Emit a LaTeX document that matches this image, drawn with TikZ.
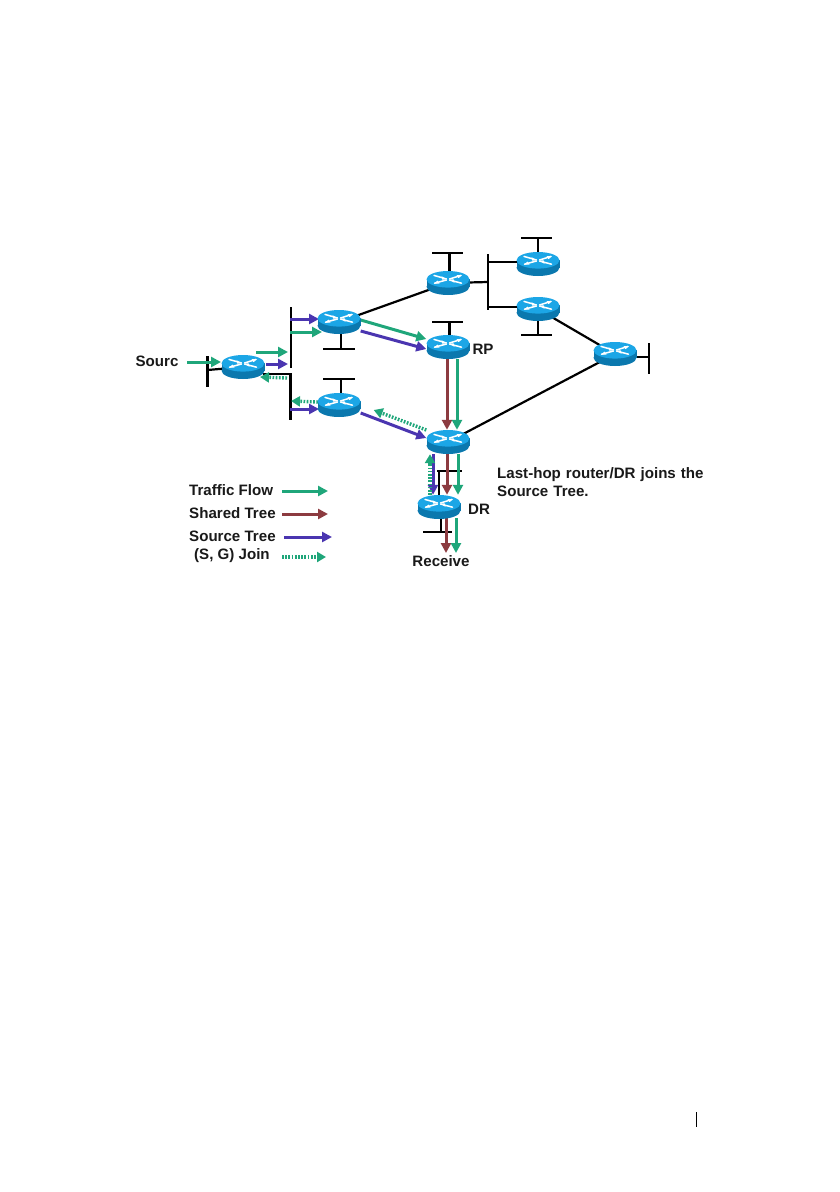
\documentclass[tikz,border=0pt]{standalone}
\usepackage{fontspec}
\setmainfont{Liberation Sans}
\usetikzlibrary{arrows.meta,backgrounds}
\definecolor{flowgreen}{HTML}{1FA67A}
\definecolor{treebrown}{HTML}{8C3B40}
\definecolor{treeblue}{HTML}{4A35B0}
\definecolor{routertop}{HTML}{1CA6E6}
\definecolor{routerside}{HTML}{0B78AE}
\tikzset{
  x=1pt,y=-1pt,
  routerbox/.style={rectangle,minimum width=43pt,minimum height=24pt,inner sep=0pt},
  routerpic/.pic={
    \fill[routerside] (-21.5,-3.7) rectangle (21.5,3.7);
    \fill[routerside] (0,3.7) ellipse[x radius=21.5,y radius=8.3];
    \fill[routertop] (0,-3.7) ellipse[x radius=21.5,y radius=8.3];
    \draw[white,line width=1.5pt,line cap=round] (-14,-7.6) -- (-1.5,-4);
    \draw[white,line width=1.5pt,line cap=round] (1.5,-4) -- (13,-7.6);
    \draw[white,line width=1.5pt,line cap=round] (13.5,0.2) -- (1.5,-3);
    \draw[white,line width=1.5pt,line cap=round] (-1.5,-3) -- (-13.5,0.2);
    \fill[white] (-1.5,-3.9) -- (-6.5,-6.8) -- (-5.5,-3.2) -- cycle;
    \fill[white] (14,-8) -- (8.5,-8) -- (10.5,-4.8) -- cycle;
    \fill[white] (1.5,-3.1) -- (6.5,-0.2) -- (5.5,-3.8) -- cycle;
    \fill[white] (-14,0.6) -- (-8.5,0.6) -- (-10.5,-2.4) -- cycle;
  },
  wire/.style={draw=black,line width=2.2pt},
  flow/.style={line width=3pt,-{Triangle[length=10pt,width=10pt]}},
  greenflow/.style={flow,draw=flowgreen,fill=flowgreen},
  brownflow/.style={flow,draw=treebrown,fill=treebrown},
  blueflow/.style={flow,draw=treeblue,fill=treeblue},
  joinflow/.style={draw=flowgreen,line width=3.4pt,dash pattern=on 1.7pt off 1.5pt,
    -{Triangle[length=9pt,width=10pt,fill=flowgreen,sep=0pt]}},
  lbl/.style={font=\bfseries\fontsize{15.1}{17}\selectfont,text=black!90,inner sep=0pt},
  lblleft/.style={lbl,align=left,anchor=west},
}
\begin{document}
\begin{tikzpicture}
\useasboundingbox (0,0) rectangle (840,1192);

% routers
\node[routerbox] (src) at (243,367) {};
\node[routerbox] (upr) at (339,322) {};
\node[routerbox] (lwr) at (339,405) {};
\node[routerbox] (top) at (448,283) {};
\node[routerbox] (rp)  at (448,347) {};
\node[routerbox] (ra)  at (538,264) {};
\node[routerbox] (rb)  at (538,309) {};
\node[routerbox] (far) at (615,354) {};
\node[routerbox] (hop) at (448,442) {};
\node[routerbox] (dr)  at (439,507) {};

% labels
\node[lbl] (tsrc) at (157,361) {Sourc};
\node[lbl] (trp) at (483,349) {RP};
\node[lbl] (tdr) at (479,509) {DR};
\node[lbl] (trcv) at (441,561) {Receive};
\node[lblleft,text width=230pt] (tnote) at (497,482) {Last-hop router/DR joins the\\[1pt]Source Tree.};
\node[lblleft] (ltf) at (189,490) {Traffic Flow};
\node[lblleft] (lsh) at (189,513) {Shared Tree};
\node[lblleft] (lso) at (189,536) {Source Tree};
\node[lblleft] (ljn) at (194,556) {(S, G) Join};

% free ends
\coordinate (b1a) at (207.5,356); \coordinate (b1b) at (207.5,387); \coordinate (b1c) at (207.5,370);
\coordinate (b2a) at (291,307); \coordinate (b2b) at (291,368);
\coordinate (b3a) at (263,374); \coordinate (b3c) at (290.5,374); \coordinate (b3b) at (290.5,420);
\coordinate (u1) at (341,349); \coordinate (u1a) at (323,349); \coordinate (u1b) at (355,349);
\coordinate (l1) at (341,379); \coordinate (l1a) at (323,379); \coordinate (l1b) at (355,379);
\coordinate (t1) at (449.5,253); \coordinate (t1a) at (432,253); \coordinate (t1b) at (463,253);
\coordinate (p1) at (449.5,322); \coordinate (p1a) at (432,322); \coordinate (p1b) at (463,322);
\coordinate (s1) at (488,282); \coordinate (s1a) at (488,254); \coordinate (s1b) at (488,310);
\coordinate (s2) at (488,262); \coordinate (s3) at (488,307);
\coordinate (a1) at (538,238); \coordinate (a1a) at (521,238); \coordinate (a1b) at (552,238);
\coordinate (b1) at (538,335); \coordinate (b1l) at (521,335); \coordinate (b1r) at (552,335);
\coordinate (f1) at (649,357); \coordinate (f1a) at (649,343); \coordinate (f1b) at (649,374);
\coordinate (h1) at (439,471); \coordinate (h1a) at (437,471); \coordinate (h1b) at (462,471);
\coordinate (d1) at (441,532); \coordinate (d1a) at (423,532); \coordinate (d1b) at (452,532);
% arrow ends
\coordinate (g0s) at (187,362); \coordinate (g0e) at (221,362);
\coordinate (g1s) at (256,352); \coordinate (g1e) at (288,352);
\coordinate (v1s) at (266,364); \coordinate (v1e) at (288,364);
\coordinate (v2s) at (290,319); \coordinate (v2e) at (319,319);
\coordinate (g2s) at (290,332); \coordinate (g2e) at (322,332);
\coordinate (j1s) at (287,378); \coordinate (j1e) at (260,377);
\coordinate (v3s) at (290,409); \coordinate (v3e) at (319,409);
\coordinate (j2s) at (318,402); \coordinate (j2e) at (291,401);
\coordinate (d1s) at (446,518); \coordinate (d1e) at (446,553);
\coordinate (d2s) at (456,518); \coordinate (d2e) at (456,553);
\coordinate (e1) at (328,491); \coordinate (e1s) at (282,491);
\coordinate (e2) at (328,514); \coordinate (e2s) at (282,514);
\coordinate (e3) at (332,537); \coordinate (e3s) at (284,537);
\coordinate (e4) at (326,557); \coordinate (e4s) at (282,557);

\begin{scope}[on background layer]
  % network wires
  \draw[wire] (b1a) -- (b1b);
  \draw[wire] (b1c) -- (src.center);
  \draw[wire] (b2a) -- (b2b);
  \draw[wire] (b3a) -- (b3c) -- (b3b);
  \draw[wire] (upr.center) -- (top.center);
  \draw[wire] (u1a) -- (u1b);
  \draw[wire] (u1) -- (u1 |- upr.center);
  \draw[wire] (l1a) -- (l1b);
  \draw[wire] (l1) -- (l1 |- lwr.center);
  \draw[wire] (t1a) -- (t1b);
  \draw[wire] (t1) -- (t1 |- top.center);
  \draw[wire] (p1a) -- (p1b);
  \draw[wire] (p1) -- (p1 |- rp.center);
  \draw[wire] (top.center) -- (s1);
  \draw[wire] (s1a) -- (s1b);
  \draw[wire] (s2) -- (ra.center |- s2);
  \draw[wire] (s3) -- (rb.center |- s3);
  \draw[wire] (a1a) -- (a1b);
  \draw[wire] (a1) -- (ra.center);
  \draw[wire] (b1l) -- (b1r);
  \draw[wire] (b1) -- (rb.center);
  \draw[wire] (rb.center) -- (far.center);
  \draw[wire] (far.center) -- (hop.center);
  \draw[wire] (far.center |- f1) -- (f1);
  \draw[wire] (f1a) -- (f1b);
  \draw[wire] (h1a) -- (h1b);
  \draw[wire] (h1) -- (h1 |- dr.center);
  \draw[wire] (d1a) -- (d1b);
  \draw[wire] (d1) -- (d1 |- dr.center);
\end{scope}

% traffic arrows
\draw[greenflow] (g0s) -- (g0e);
\draw[greenflow] (g1s) -- (g1e);
\draw[blueflow] (v1s) -- (v1e);
\draw[blueflow] (v2s) -- (v2e);
\draw[greenflow] (g2s) -- (g2e);
\draw[joinflow] (j1s) -- (j1e);
\draw[blueflow] (v3s) -- (v3e);
\draw[joinflow] (j2s) -- (j2e);
\draw[greenflow] ([yshift=2pt]upr.east) -- ([yshift=8pt]rp.west);
\draw[blueflow] ([yshift=-9pt]upr.east) -- ([yshift=-2pt]rp.west);
\draw[blueflow] ([yshift=-8pt]lwr.east) -- ([yshift=4pt]hop.west);
\draw[joinflow] ([yshift=12pt]hop.west) -- ([xshift=13pt,yshift=-5pt]lwr.east);
\draw[brownflow] ([xshift=-1pt]rp.south) -- ([xshift=-1pt]hop.north);
\draw[greenflow] ([xshift=9pt]rp.south) -- ([xshift=9pt]hop.north);
\draw[brownflow] ([xshift=-1pt]hop.south) -- ([xshift=8pt]dr.north);
\draw[greenflow] ([xshift=10pt]hop.south) -- ([xshift=19pt]dr.north);
\draw[blueflow] ([xshift=-15pt]hop.south) -- ([xshift=-6pt]dr.north);
\draw[joinflow] ([xshift=-9pt]dr.north) -- ([xshift=-18pt]hop.south);
\draw[brownflow] (d1s) -- (d1e);
\draw[greenflow] (d2s) -- (d2e);

% legend arrows
\draw[greenflow] (e1s) -- (e1);
\draw[brownflow] (e2s) -- (e2);
\draw[blueflow] (e3s) -- (e3);
\draw[joinflow] (e4s) -- (e4);

% router icons
\foreach \r in {src,upr,lwr,top,rp,ra,rb,far,hop,dr} { \pic at (\r) {routerpic}; }

% page margin rule
\coordinate (pga) at (696.5,1112); \coordinate (pgb) at (696.5,1127);
\draw[black,line width=1pt] (pga) -- (pgb);
\end{tikzpicture}
\end{document}
